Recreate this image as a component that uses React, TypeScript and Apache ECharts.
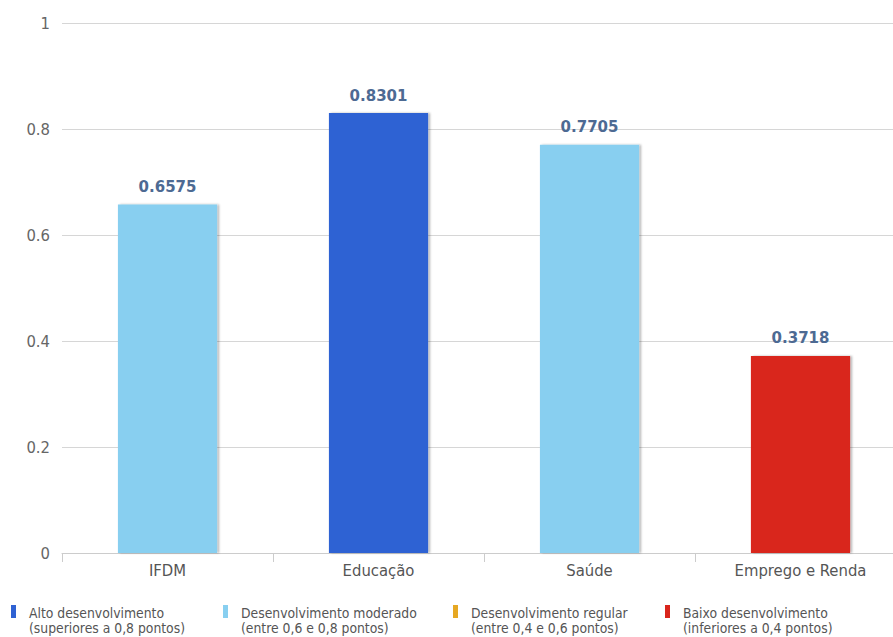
import React, { useEffect, useRef } from "react";
import * as echarts from "echarts";

const categories = ["IFDM", "Educação", "Saúde", "Emprego e Renda"];
const values = [0.6575, 0.8301, 0.7705, 0.3718];
const classNames = [
  "Alto desenvolvimento",
  "Desenvolvimento moderado",
  "Desenvolvimento regular",
  "Baixo desenvolvimento",
];
const classRanges = [
  "(superiores a 0,8 pontos)",
  "(entre 0,6 e 0,8 pontos)",
  "(entre 0,4 e 0,6 pontos)",
  "(inferiores a 0,4 pontos)",
];
const classColors = ["#2f62d3", "#88cff0", "#e6a823", "#d9251c"];
// class index of each category's value
const categoryClass = [1, 0, 1, 3];

const FONT = "DejaVu Sans Condensed, DejaVu Sans";

export default function App() {
  const ref = useRef<HTMLDivElement>(null);
  useEffect(() => {
    if (!ref.current) return;
    const chart = echarts.init(ref.current, null, { renderer: "svg" });
    const series = classNames.map((name, ci) => ({
      name,
      type: "bar",
      stack: "all",
      barWidth: "47%",
      data: values.map((v, i) => (categoryClass[i] === ci ? v : "-")),
      itemStyle: {
        color: classColors[ci],
        shadowColor: "rgba(0,0,0,0.28)",
        shadowOffsetX: 2,
        shadowBlur: 2,
      },
      label: {
        show: true,
        position: "top",
        distance: 10,
        fontFamily: "DejaVu Sans",
        fontWeight: "bold",
        fontSize: 15,
        color: "#4d6a93",
        formatter: (p: any) => p.value.toFixed(4),
      },
    }));
    const legendX = [11, 223, 453, 665];
    const graphic: any[] = [];
    classNames.forEach((name, ci) => {
      graphic.push({
        type: "rect",
        left: legendX[ci],
        top: 605,
        shape: { width: 5, height: 13 },
        style: { fill: classColors[ci] },
      });
      graphic.push({
        type: "text",
        left: legendX[ci] + 18,
        top: 606,
        style: {
          text: `${name}\n${classRanges[ci]}`,
          font: `13.8px ${FONT}`,
          lineHeight: 14.5,
          fill: "#555",
        },
      });
    });
    chart.setOption({
      animation: false,
      backgroundColor: "#ffffff",
      grid: { left: 62, right: 0, top: 23, bottom: 84, containLabel: false },
      graphic,
      xAxis: {
        type: "category",
        data: categories,
        axisLine: { lineStyle: { color: "#cccccc" } },
        axisTick: { show: true, length: 9, lineStyle: { color: "#cccccc" } },
        axisLabel: {
          fontFamily: FONT,
          fontSize: 16.5,
          color: "#555",
          margin: 9,
        },
      },
      yAxis: {
        type: "value",
        min: 0,
        max: 1,
        interval: 0.2,
        axisLine: { show: false },
        axisTick: { show: false },
        splitLine: { lineStyle: { color: "#d6d6d6" } },
        axisLabel: {
          fontFamily: FONT,
          fontSize: 16.5,
          color: "#666",
          margin: 12,
        },
      },
      series,
    });
    return () => chart.dispose();
  }, []);
  return (
    <div
      ref={ref}
      style={{ position: "fixed", left: 0, top: 0, width: 906, height: 637 }}
    />
  );
}
